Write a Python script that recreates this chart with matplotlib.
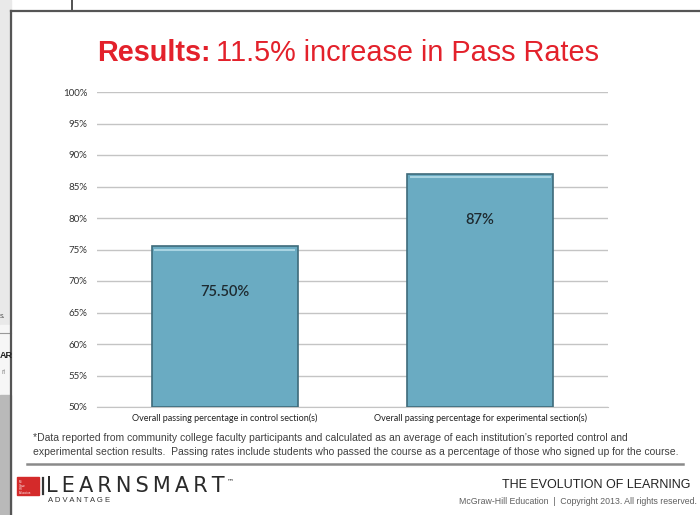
import matplotlib
matplotlib.use("Agg")
import matplotlib.pyplot as plt
from matplotlib.patches import Rectangle
from matplotlib.lines import Line2D

# chart data
categories = ["Overall passing percentage in control section(s)",
              "Overall passing percentage for experimental section(s)"]
values = [75.5, 87.0]
value_labels = ["75.50%", "87%"]
yticks = [50, 55, 60, 65, 70, 75, 80, 85, 90, 95, 100]
ytick_labels = [f"{t}%" for t in yticks]

footnote = ["*Data reported from community college faculty participants and calculated as an average of each institution\u2019s reported control and",
            "experimental section results.  Passing rates include students who passed the course as a percentage of those who signed up for the course."]

# colours
RED = "#E3212B"
BAR = "#6AABC2"
BAR_EDGE = "#3E6B7A"
TEXT = "#404040"
GRID = "#C4C4C4"

W, H = 700, 515
fig = plt.figure(figsize=(7, 5.15), dpi=100)

# background / slide frame (drawn in pixel coords on a full-figure axes)
bg = fig.add_axes([0, 0, 1, 1], zorder=0)
bg.set_xlim(0, W)
bg.set_ylim(H, 0)
bg.axis("off")
bg.add_patch(Rectangle((0, 0), W, H, color="#FFFFFF"))
bg.add_patch(Rectangle((0, 0), 11, 325, color="#E9E9E9"))
bg.add_patch(Rectangle((0, 325), 11, 70, color="#F6F6F6"))
bg.add_patch(Rectangle((0, 395), 11, 120, color="#B9B9B9"))
bg.add_line(Line2D([0, 11], [333, 333], color="#999999", lw=0.8))
bg.text(0, 317, "s.", fontsize=5, color="#555555", va="center", family="Liberation Sans")
bg.text(0, 356, "AR", fontsize=6.5, color="#222222", va="center", family="Liberation Sans",
        fontweight="bold")
bg.text(1, 372, "ri", fontsize=5, color="#888888", va="center", family="Liberation Sans")
bg.add_line(Line2D([72, 72], [0, 10], color="#333333", lw=1.2))
bg.add_line(Line2D([11, W], [10.5, 10.5], color="#555555", lw=1.6))
bg.add_line(Line2D([11, 11], [10.5, H], color="#555555", lw=1.6))

# separator under footnote
bg.add_line(Line2D([27, 683], [464, 464], color="#8A8A8A", lw=1.8))

# footnote
bg.text(33, 438, footnote[0], fontsize=7.5, color=TEXT, va="center", family="Liberation Sans")
bg.text(33, 452, footnote[1], fontsize=7.5, color=TEXT, va="center", family="Liberation Sans")

# logo
bg.add_patch(Rectangle((17, 477), 22, 18, color="#D42A2A"))
bg.text(19, 480, "Mc\nGraw\nHill\nEducation", fontsize=2, color="white", va="top",
        family="Liberation Sans", linespacing=0.9)
bg.add_line(Line2D([43, 43], [478, 494], color="#333333", lw=1.6))
ls = bg.text(46, 486, "L\u2009E\u2009A\u2009R\u2009N\u2009S\u2009M\u2009A\u2009R\u2009T", fontsize=15,
             color="#2A2A2A", va="center", family="DejaVu Sans")
bg.text(48, 500, "A D V A N T A G E", fontsize=5.5, color="#333333", va="center",
        family="Liberation Sans")

# right footer
bg.text(690, 485, "THE EVOLUTION OF LEARNING", fontsize=9, color="#222222", ha="right",
        va="center", family="Liberation Sans")
bg.text(697, 501, "McGraw-Hill Education  |  Copyright 2013. All rights reserved.", fontsize=6.3,
        color="#606060", ha="right", va="center", family="Liberation Sans")

# title: bold part + regular part
t1 = bg.text(97, 53, "Results:", fontsize=20.8, color=RED, fontweight="bold", va="center",
             family="Liberation Sans")
fig.canvas.draw()
r = fig.canvas.get_renderer()
bb = t1.get_window_extent(renderer=r)
bg.text(bb.x1 / fig.dpi * 100 + 6, 53, "11.5% increase in Pass Rates", fontsize=20.8, color=RED,
        va="center", family="Liberation Sans")
lb = ls.get_window_extent(renderer=r)
bg.text(lb.x1 / fig.dpi * 100 + 2, 481, "\u2122", fontsize=5, color="#2A2A2A", va="center",
        family="DejaVu Sans")

# chart
ax = fig.add_axes([97 / W, 1 - 407 / H, 511 / W, 315 / H], zorder=1)
ax.patch.set_alpha(0)
x = list(range(len(categories)))
bars = ax.bar(x, [v - 50 for v in values], bottom=50, width=0.57, color=BAR,
              edgecolor=BAR_EDGE, linewidth=1.2, zorder=3)
for b, v, lab in zip(bars, values, value_labels):
    cx = b.get_x() + b.get_width() / 2
    # light bevel along the top of each bar
    ax.plot([b.get_x() + 0.01, b.get_x() + b.get_width() - 0.01], [v - 0.5, v - 0.5],
            color="#A8D4E2", lw=1.5, zorder=4, solid_capstyle="butt")
    ax.text(cx, v - 7.3, lab, ha="center", va="center", fontsize=10.5, color="#1E2A30",
            family="Lato", fontweight="semibold", zorder=4)

ax.set_xlim(-0.5, 1.5)
ax.set_ylim(50, 100)
ax.set_yticks(yticks)
ax.set_yticklabels(ytick_labels, fontsize=7, color="#333333", family="Lato")
ax.set_xticks(x)
ax.set_xticklabels(categories, fontsize=6.5, color="#222222", family="Lato")
ax.tick_params(length=0, pad=7)
ax.tick_params(axis="x", pad=5)
ax.yaxis.grid(True, color=GRID, lw=1, zorder=0)
for s in ["top", "right", "left"]:
    ax.spines[s].set_visible(False)
ax.spines["bottom"].set_color(GRID)

fig.savefig("out.png", dpi=100)
